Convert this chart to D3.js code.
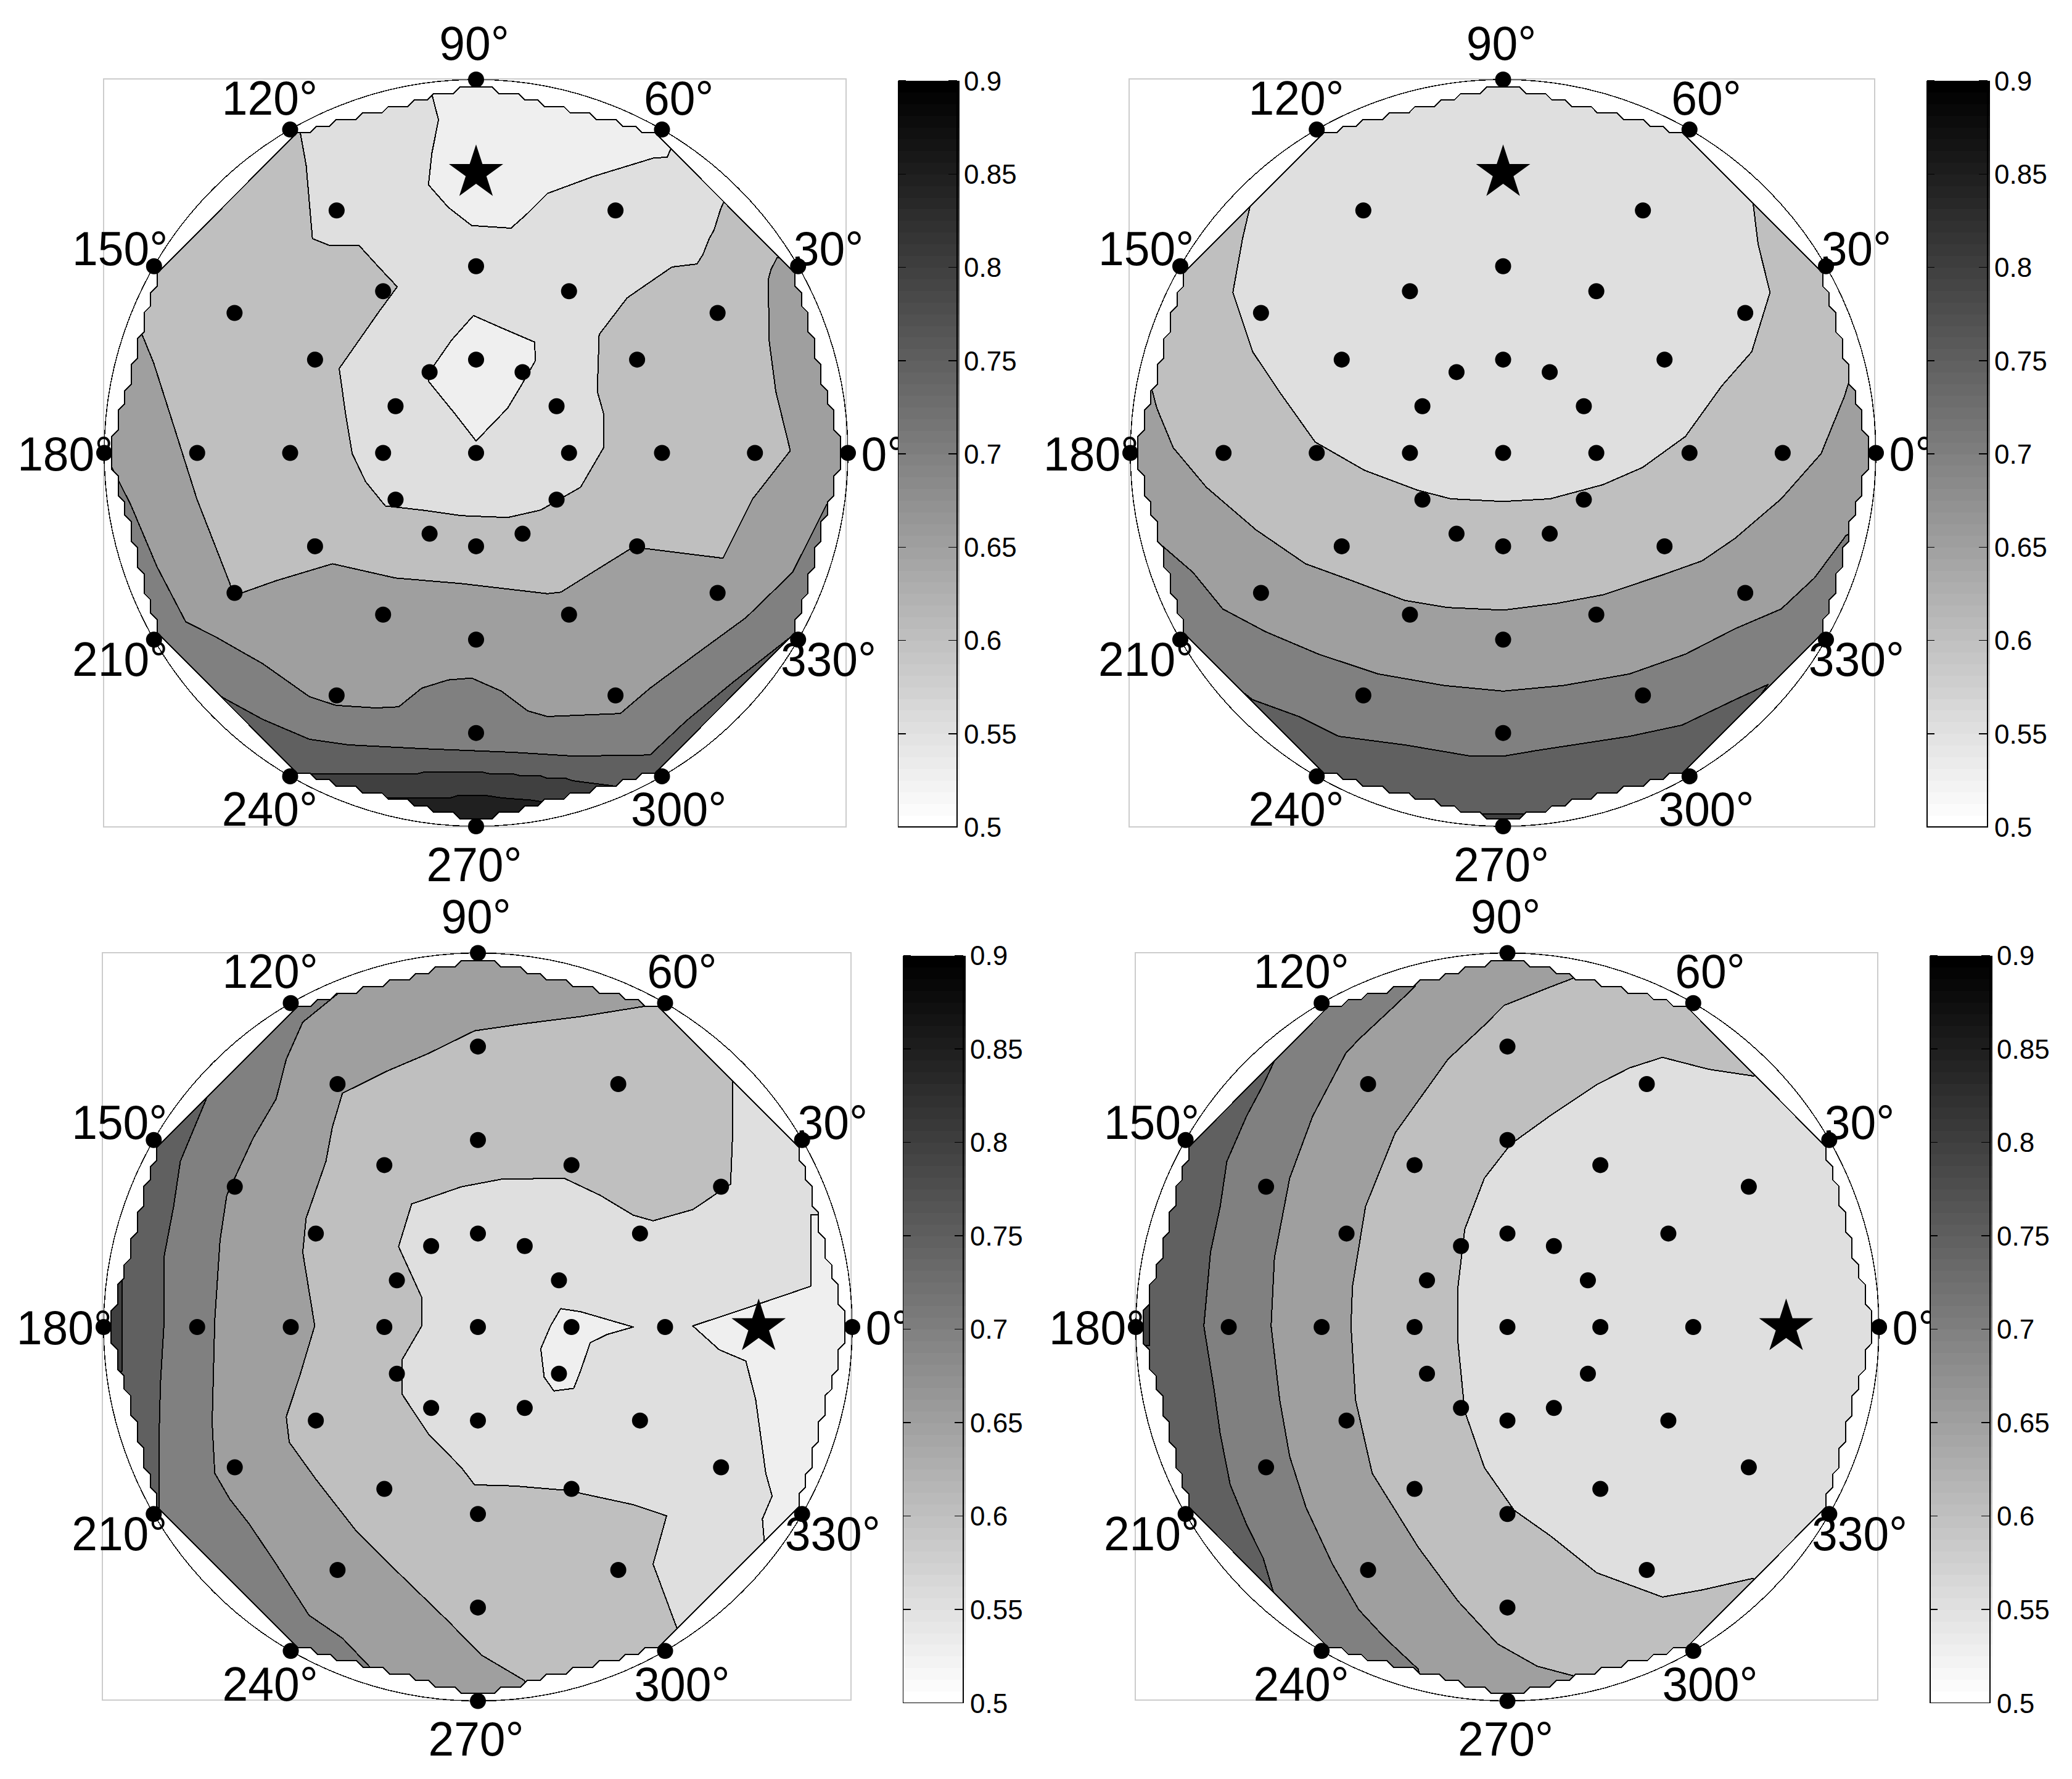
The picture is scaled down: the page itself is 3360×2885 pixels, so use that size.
<!DOCTYPE html>
<html><head><meta charset="utf-8">
<script src="https://cdnjs.cloudflare.com/ajax/libs/d3/7.8.5/d3.min.js"></script>
<style>html,body{margin:0;padding:0;background:#fff}svg{display:block;shape-rendering:crispEdges}text{font-family:"Liberation Sans",Arial,sans-serif;fill:#000}circle,.star{shape-rendering:auto}</style>
</head><body><svg id="c" width="3360" height="2885"></svg>
<script>
// ---- data ----
const angleTicks = [0,30,60,90,120,150,180,210,240,270,300,330];
const electrodeRadii = [0.25,0.5,0.75,1];
const colorbarTicks = [0.5,0.55,0.6,0.65,0.7,0.75,0.8,0.85,0.9];
const colorbarLabels = ["0.5","0.55","0.6","0.65","0.7","0.75","0.8","0.85","0.9"];
const colorbarSteps = d3.range(64);

// contour regions in head coordinates (x,y in unit radius); points beyond the unit circle close the region
const p1Base = 0.85;
const p1Layers = [
 {level:0.8, pts:[[-1.3,-.924],[-.07,-.924],[-.05,-.918],[.03,-.918],[.07,-.924],[.15,-.93],[.18,-.935],[.18,-1.1],[1.3,-1.1],[1.3,1.3],[-1.3,1.3]]},
 {level:0.75, pts:[[-1.3,-.86],[-.16,-.86],[-.136,-.854],[.013,-.854],[.04,-.86],[.101,-.86],[.12,-.865],[.174,-.865],[.19,-.871],[.24,-.871],[.26,-.878],[.37,-.892],[.37,-1.1],[1.3,-1.1],[1.3,1.3],[-1.3,1.3]]},
 {level:0.7, pts:[[-.7,-.8],[-.62,-.746],[-.724,-.623],[-.68,-.656],[-.573,-.714],[-.448,-.767],[-.342,-.782],[-.146,-.792],[.103,-.802],[.263,-.812],[.468,-.809],[.566,-.717],[.69,-.615],[.851,-.489],[.95,-.45],[1.3,-.45],[1.3,1.3],[-1.3,1.3],[-1.3,-.8]]},
 {level:0.65, pts:[[-1.2,-.017],[-.991,-.017],[-.929,-.138],[-.858,-.305],[-.781,-.452],[-.698,-.494],[-.573,-.565],[-.448,-.653],[-.377,-.676],[-.27,-.683],[-.208,-.68],[-.146,-.63],[-.075,-.608],[-.012,-.603],[.068,-.638],[.139,-.691],[.192,-.706],[.388,-.698],[.468,-.63],[.601,-.532],[.726,-.441],[.851,-.32],[.943,-.138],[1.3,-.1],[1.3,1.3],[-1.2,1.3]]},
 {level:0.6, pts:[[-1.2,.37],[-.92,.37],[-.867,.241],[-.804,.044],[-.751,-.123],[-.662,-.35],[-.653,-.383],[-.537,-.342],[-.386,-.297],[-.217,-.335],[-.039,-.35],[.192,-.377],[.228,-.373],[.326,-.312],[.423,-.252],[.664,-.282],[.744,-.123],[.845,.006],[.806,.165],[.788,.302],[.786,.465],[.793,.491],[.809,.522],[.823,.522],[1.2,.6],[1.2,1.3],[-1.2,1.3]]},
 {level:0.55, pts:[[-.52,.95],[-.475,.87],[-.457,.771],[-.44,.574],[-.395,.556],[-.315,.556],[-.262,.498],[-.212,.445],[-.262,.377],[-.368,.226],[-.351,.105],[-.333,-.002],[-.297,-.077],[-.244,-.142],[-.146,-.153],[-.039,-.168],[.085,-.173],[.174,-.153],[.281,-.092],[.343,.014],[.343,.105],[.326,.165],[.331,.317],[.406,.415],[.461,.453],[.527,.498],[.594,.506],[.61,.531],[.627,.574],[.64,.597],[.657,.651],[.665,.67],[.673,.67],[.75,.75],[1.2,.75],[1.2,1.2],[-.52,1.2]]},
 {level:0.525, pts:[[-.12,1.05],[-.119,.961],[-.101,.892],[-.119,.802],[-.128,.718],[-.075,.658],[-.012,.609],[.094,.602],[.139,.642],[.192,.695],[.317,.741],[.478,.79],[.514,.792],[.524,.815],[.6,.9],[.6,1.2],[-.12,1.2]]},
 {level:0.525, pts:[[-.007,.368],[.068,.335],[.157,.297],[.16,.248],[.121,.18],[.085,.12],[0,.032],[-.057,.105],[-.128,.192],[-.119,.226],[-.066,.302]]}
];
const p2Base = 0.8;
const p2Layers = [
 {level:0.75, pts:[[-1.3,-.967],[1.3,-.967],[1.3,1.3],[-1.3,1.3]]},
 {level:0.7, pts:[[-.7,-.8],[-.62,-.746],[-.725,-.62],[-.672,-.661],[-.548,-.706],[-.441,-.759],[-.264,-.782],[-.087,-.812],[.002,-.812],[.09,-.797],[.339,-.759],[.48,-.729],[.622,-.661],[.711,-.62],[.62,-.746],[.7,-.8],[1.3,-.8],[1.3,1.3],[-1.3,1.3],[-1.3,-.8]]},
 {level:0.65, pts:[[-1.2,-.15],[-.92,-.244],[-.832,-.32],[-.752,-.418],[-.637,-.479],[-.495,-.539],[-.335,-.592],[-.158,-.623],[0,-.638],[.161,-.623],[.339,-.592],[.489,-.539],[.622,-.471],[.746,-.418],[.835,-.335],[.92,-.221],[1.2,-.1],[1.2,1.3],[-1.2,1.3]]},
 {level:0.6, pts:[[-1.2,.22],[-.947,.188],[-.929,.12],[-.885,.014],[-.796,-.092],[-.663,-.206],[-.53,-.297],[-.406,-.342],[-.264,-.395],[-.149,-.414],[0,-.421],[.144,-.403],[.268,-.38],[.427,-.327],[.534,-.289],[.622,-.229],[.746,-.123],[.853,-.002],[.915,.15],[.927,.188],[1.2,.22],[1.2,1.3],[-1.2,1.3]]},
 {level:0.55, pts:[[-.72,.72],[-.676,.673],[-.699,.574],[-.725,.43],[-.672,.271],[-.601,.165],[-.504,.029],[-.371,-.047],[-.229,-.1],[-.14,-.123],[0,-.13],[.126,-.123],[.268,-.085],[.374,-.039],[.489,.044],[.587,.18],[.667,.271],[.716,.43],[.684,.559],[.67,.673],[.72,.72],[.72,1.2],[-.72,1.2]]}
];
const p3Base = 0.8;
const p3Layers = [
 {level:0.75, pts:[[-.951,1.3],[-.951,-.118],[-1.05,-.118],[-1.05,-1.3],[1.3,-1.3],[1.3,1.3]]},
 {level:0.7, pts:[[-.74,1.2],[-.74,.7],[-.716,.633],[-.751,.549],[-.795,.443],[-.813,.322],[-.839,.185],[-.839,.003],[-.848,-.149],[-.852,-.3],[-.852,-.437],[-.852,-.6],[-.852,-1.3],[1.3,-1.3],[1.3,1.2]]},
 {level:0.65, pts:[[-.33,1.2],[-.33,1.0],[-.371,.894],[-.468,.815],[-.512,.716],[-.539,.61],[-.601,.504],[-.671,.352],[-.689,.231],[-.703,.018],[-.71,-.255],[-.703,-.391],[-.663,-.46],[-.61,-.528],[-.539,-.634],[-.451,-.771],[-.362,-.832],[-.283,-.915],[-.25,-1.05],[-.25,-1.3],[1.3,-1.3],[1.3,1.2]]},
 {level:0.6, pts:[[.55,1.2],[.55,.95],[.486,.86],[.442,.857],[.274,.83],[.115,.81],[-.009,.792],[-.133,.731],[-.239,.686],[-.362,.625],[-.389,.534],[-.406,.443],[-.459,.291],[-.468,.2],[-.436,.003],[-.477,-.134],[-.512,-.24],[-.504,-.308],[-.433,-.407],[-.327,-.543],[-.221,-.649],[-.08,-.786],[.009,-.877],[.124,-.945],[.15,-1.05],[1.3,-1.05],[1.3,1.2]]},
 {level:0.55, pts:[[.68,.75],[.68,.656],[.68,.504],[.675,.382],[.574,.314],[.468,.284],[.415,.299],[.327,.352],[.23,.398],[.062,.395],[-.044,.375],[-.177,.329],[-.212,.215],[-.15,.079],[-.15,.003],[-.203,-.088],[-.203,-.179],[-.133,-.285],[-.044,-.376],[-.009,-.422],[.097,-.425],[.239,-.437],[.415,-.475],[.504,-.505],[.468,-.634],[.53,-.801],[.56,-.87],[1.2,-.87],[1.2,.75]]},
 {level:0.525, pts:[[.889,.3],[.889,.109],[.822,.086],[.689,.041],[.574,.003],[.645,-.061],[.716,-.091],[.742,-.194],[.769,-.391],[.786,-.452],[.76,-.513],[.765,-.574],[.8,-.62],[1.2,-.62],[1.2,.3]]},
 {level:0.525, pts:[[.221,.049],[.274,.041],[.353,.018],[.415,0],[.345,-.02],[.3,-.042],[.274,-.118],[.256,-.164],[.203,-.171],[.177,-.134],[.168,-.058],[.194,.003]]}
];
const p4Base = 0.8;
const p4Layers = [
 {level:0.75, pts:[[-.964,1.3],[-.964,-.05],[-1.05,-.05],[-1.05,-1.3],[1.3,-1.3],[1.3,1.3]]},
 {level:0.7, pts:[[-.66,1.2],[-.66,.76],[-.625,.716],[-.657,.648],[-.702,.564],[-.755,.443],[-.773,.322],[-.799,.2],[-.817,.003],[-.79,-.164],[-.773,-.285],[-.746,-.422],[-.702,-.528],[-.657,-.619],[-.627,-.718],[-.66,-.76],[-.66,-1.2],[1.3,-1.2],[1.3,1.2]]},
 {level:0.65, pts:[[-.22,1.2],[-.22,1.05],[-.249,.91],[-.302,.86],[-.4,.769],[-.435,.732],[-.524,.564],[-.586,.398],[-.627,.185],[-.636,.003],[-.613,-.194],[-.586,-.346],[-.542,-.483],[-.471,-.634],[-.4,-.756],[-.329,-.832],[-.24,-.915],[-.21,-1.05],[-.21,-1.2],[1.3,-1.2],[1.3,1.2]]},
 {level:0.6, pts:[[.2,1.2],[.2,1.05],[.186,.936],[.107,.906],[-.009,.86],[-.062,.807],[-.16,.716],[-.302,.519],[-.382,.322],[-.417,.109],[-.421,.003],[-.409,-.194],[-.364,-.391],[-.24,-.589],[-.133,-.733],[-.027,-.847],[.08,-.907],[.186,-.935],[.2,-1.05],[.2,-1.2],[1.3,-1.2],[1.3,1.2]]},
 {level:0.55, pts:[[.72,.72],[.663,.671],[.542,.689],[.417,.721],[.329,.693],[.24,.648],[.115,.565],[.009,.489],[-.062,.398],[-.115,.261],[-.133,.109],[-.133,-.042],[-.115,-.225],[-.062,-.376],[.018,-.49],[.115,-.558],[.24,-.657],[.417,-.722],[.524,-.703],[.661,-.672],[.72,-.72],[1.2,-.72],[1.2,.72]]}
];

const panels = [
 {base:p1Base, layers:p1Layers, star:[90,.75], cx:772, cy:734.5, rx:603, ry:605.5, box:[168,127.7,1372,1340.7], bar:[1456.5,1552,131,1341]},
 {base:p2Base, layers:p2Layers, star:[90,.75], cx:2437.5, cy:734.5, rx:604.5, ry:605.5, box:[1831,127.7,3039.6,1340.7], bar:[3125,3223,131,1341]},
 {base:p3Base, layers:p3Layers, star:[0,.75], cx:775, cy:2152, rx:607, ry:606.5, box:[166,1545,1380,2757], bar:[1464.6,1562,1549.5,2761.7]},
 {base:p4Base, layers:p4Layers, star:[0,.75], cx:2444.5, cy:2152, rx:602.6, ry:606.5, box:[1840.7,1545,3045,2757], bar:[3130,3227,1549.5,2761.7]}
];

// ---- drawing ----
const svg = d3.select("#c");
svg.append("rect").attr("width",3360).attr("height",2885).attr("fill","#fff");
const gray = d3.scaleLinear().domain([0.5,0.9]).range(["#ffffff","#000000"]);
const rad = d => d*Math.PI/180;
const polar = (a,r) => [r*Math.cos(rad(a)), r*Math.sin(rad(a))];

// interpolation grid mask: grid nodes falling inside the hull of the outer electrodes
const N = 116, gridEdge = 1.00625;
const node = d3.scaleLinear().domain([0,N-1]).range([-gridEdge,gridEdge]);
const hull = angleTicks.map(a => polar(a,0.985));
const maskValues = [];
for (let j=0;j<N;j++) for (let i=0;i<N;i++) maskValues.push(d3.polygonContains(hull,[node(i),node(j)])?1:0);
const maskContour = d3.contours().size([N,N]).smooth(false).thresholds([0.5])(maskValues)[0];
const gridToUnit = d3.scaleLinear().domain([0.5,N-0.5]).range([-gridEdge,gridEdge]);

panels.forEach((p,pi) => {
  const x = d3.scaleLinear().domain([-1,1]).range([p.cx-p.rx,p.cx+p.rx]);
  const y = d3.scaleLinear().domain([-1,1]).range([p.cy+p.ry,p.cy-p.ry]);
  const g = svg.append("g");
  const line = d3.line().x(d=>x(d[0])).y(d=>y(d[1])).curve(d3.curveLinearClosed);

  g.append("rect").attr("x",p.box[0]).attr("y",p.box[1]).attr("width",p.box[2]-p.box[0]).attr("height",p.box[3]-p.box[1])
    .attr("fill","none").attr("stroke","#cccccc").attr("stroke-width",2);

  const maskD = maskContour.coordinates.map(poly => poly.map(ring =>
     "M"+ring.map(c => x(gridToUnit(c[0]))+","+y(gridToUnit(c[1]))).join("L")+"Z").join("")).join("");
  g.append("clipPath").attr("id","mask"+pi).append("path").attr("d",maskD);
  const clip = g.append("g").attr("clip-path",`url(#mask${pi})`);
  clip.append("path").attr("d",maskD).attr("fill",gray(p.base));
  clip.selectAll("path.layer").data(p.layers).join("path").attr("class","layer")
    .attr("d",d=>line(d.pts)).attr("fill",d=>gray(d.level)).attr("stroke","#000").attr("stroke-width",2).attr("stroke-linejoin","round");
  g.append("path").attr("d",maskD).attr("fill","none").attr("stroke","#000").attr("stroke-width",2);

  // head outline
  g.append("ellipse").attr("cx",x(0)).attr("cy",y(0)).attr("rx",x(1)-x(0)).attr("ry",y(-1)-y(0))
    .attr("fill","none").attr("stroke","#000").attr("stroke-width",1.5);

  // angle labels
  g.selectAll("text.ang").data(angleTicks).join("text").attr("class","ang")
    .attr("transform",a=>`translate(${x(polar(a,1.1)[0])-3},${y(polar(a,1.1)[1])}) scale(1,1.04)`).attr("dy","0.36em")
    .attr("text-anchor","middle").attr("font-size",75).text(a=>a+"°");

  // electrodes
  const electrodes = [[0,0]];
  electrodeRadii.forEach(r => angleTicks.forEach(a => { if(!(a===p.star[0]&&r===p.star[1])) electrodes.push(polar(a,r)); }));
  g.selectAll("circle.el").data(electrodes).join("circle").attr("class","el")
    .attr("cx",d=>x(d[0])).attr("cy",d=>y(d[1])).attr("r",13).attr("fill","#000");
  const sp = polar(p.star[0],p.star[1]);
  g.append("path").attr("class","star").attr("d",d3.symbol(d3.symbolStar,2400)())
    .attr("transform",`translate(${x(sp[0])},${y(sp[1])})`).attr("fill","#000");

  // colorbar
  const cb = d3.scaleLinear().domain([0.5,0.9]).range([p.bar[3],p.bar[2]]);
  const step = d3.scaleBand().domain(colorbarSteps).range([p.bar[3],p.bar[2]]);
  g.selectAll("rect.cb").data(colorbarSteps).join("rect").attr("class","cb")
    .attr("x",p.bar[0]).attr("width",p.bar[1]-p.bar[0]+3.5)
    .attr("y",d=>step(d)).attr("height",step.bandwidth()+0.5)
    .attr("fill",d=>gray(0.5+0.4*d/63));
  g.append("path").attr("d",`M${p.bar[0]},${p.bar[2]}V${p.bar[3]}H${p.bar[1]}V${p.bar[2]}`)
    .attr("fill","none").attr("stroke","#000").attr("stroke-width",1.5);
  const tk = g.selectAll("g.tk").data(colorbarTicks).join("g").attr("class","tk");
  tk.append("path").attr("d",v=>`M${p.bar[0]},${cb(v)}h12M${p.bar[1]},${cb(v)}h-14`).attr("stroke","#000").attr("stroke-width",1.5);
  tk.append("text").attr("x",p.bar[1]+11).attr("y",v=>cb(v)).attr("dy","0.36em").attr("font-size",44)
    .text((v,i)=>colorbarLabels[i]);
});
</script></body></html>
